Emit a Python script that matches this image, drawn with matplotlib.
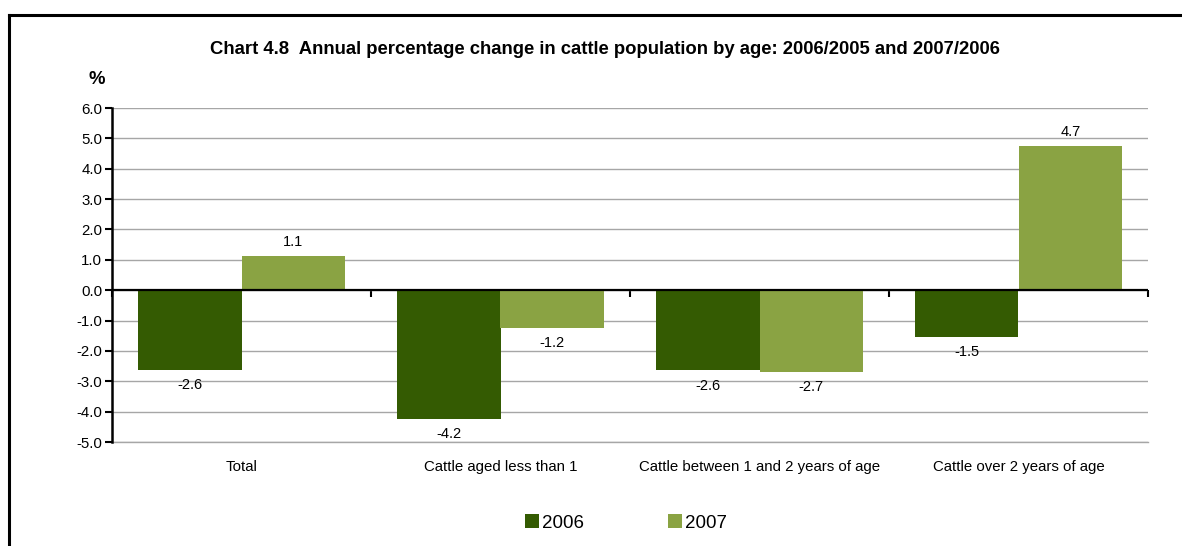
import matplotlib
matplotlib.use("Agg")
import matplotlib.pyplot as plt
from matplotlib.lines import Line2D
import numpy as np

plt.rcParams['font.family'] = ['Liberation Sans', 'DejaVu Sans']
plt.rcParams['axes.unicode_minus'] = False

categories = ["Total", "Cattle aged less than 1", "Cattle between 1 and 2 years of age", "Cattle over 2 years of age"]
series_names = ["2006", "2007"]
values_2006 = [-2.62, -4.24, -2.64, -1.54]
values_2007 = [1.12, -1.24, -2.68, 4.74]
yticks = [6.0, 5.0, 4.0, 3.0, 2.0, 1.0, 0.0, -1.0, -2.0, -3.0, -4.0, -5.0]

c2006 = "#345B02"
c2007 = "#8AA343"

fig = plt.figure(figsize=(11.82, 5.46), dpi=100)
ax = fig.add_axes([112/1182, 1-442/546, (1148-112)/1182, (442-108)/546])

x = np.arange(len(categories))
w = 0.4
b1 = ax.bar(x - w/2, values_2006, width=w, color=c2006, label=series_names[0], zorder=3)
b2 = ax.bar(x + w/2, values_2007, width=w, color=c2007, label=series_names[1], zorder=3)

for bars, vals in ((b1, values_2006), (b2, values_2007)):
    for rect, v in zip(bars, vals):
        cx = rect.get_x() + rect.get_width()/2
        if v >= 0:
            ax.annotate(f"{v:.1f}", (cx, v), xytext=(0, 5), textcoords="offset points",
                        ha="center", va="bottom", fontsize=10.5)
        else:
            ax.annotate(f"{v:.1f}", (cx, v), xytext=(0, -6), textcoords="offset points",
                        ha="center", va="top", fontsize=10.5)

ax.set_xlim(-0.5, len(categories) - 0.5)
ax.set_ylim(min(yticks), max(yticks))
ax.set_yticks(yticks)
ax.set_yticklabels([f"{t:.1f}" for t in yticks])
ax.yaxis.grid(True, color="#a6a6a6", linewidth=1.0, zorder=0)
ax.set_axisbelow(True)
ax.axhline(min(yticks), color="#a6a6a6", linewidth=1.0, zorder=0, clip_on=False)

ax.set_xticks(x)
ax.set_xticklabels(categories)
ax.tick_params(axis="x", length=0, pad=13, labelsize=10.8)
ax.tick_params(axis="y", length=5, width=1.5, direction="out", labelsize=10.8, pad=2)

for s in ("top", "right", "bottom"):
    ax.spines[s].set_visible(False)
ax.spines["left"].set_linewidth(1.8)
ax.spines["left"].set_color("black")

# zero line with category boundary ticks
ax.axhline(0, color="black", linewidth=1.6, zorder=4)
sec = ax.secondary_xaxis((0 - min(yticks)) / (max(yticks) - min(yticks)))
sec.set_xticks(np.arange(-0.5, len(categories), 1.0))
sec.tick_params(axis="x", length=5, width=1.5, direction="out", labelbottom=False, labeltop=False)
sec.spines["bottom"].set_visible(False)

fig.text(605/1182, 1-49/546, "Chart 4.8  Annual percentage change in cattle population by age: 2006/2005 and 2007/2006",
         ha="center", va="center", fontsize=13.3, fontweight="bold")
fig.text(97/1182, 1-80/546, "%", ha="center", va="center", fontsize=13.3, fontweight="bold")

leg = fig.legend(handles=[b1, b2], labels=series_names, loc="center", bbox_to_anchor=(626/1182, 1-523/546),
                 ncol=2, frameon=False, fontsize=13.5, handlelength=0.75, handleheight=0.75,
                 handletextpad=0.15, columnspacing=4.5)

# outer frame (top and left edges)
fig.add_artist(Line2D([9/1182, 1.0], [1-15/546, 1-15/546], transform=fig.transFigure, color="black", linewidth=2.2))
fig.add_artist(Line2D([9/1182, 9/1182], [1-15/546, 0.0], transform=fig.transFigure, color="black", linewidth=2.2))

fig.savefig("out.png", dpi=100)
